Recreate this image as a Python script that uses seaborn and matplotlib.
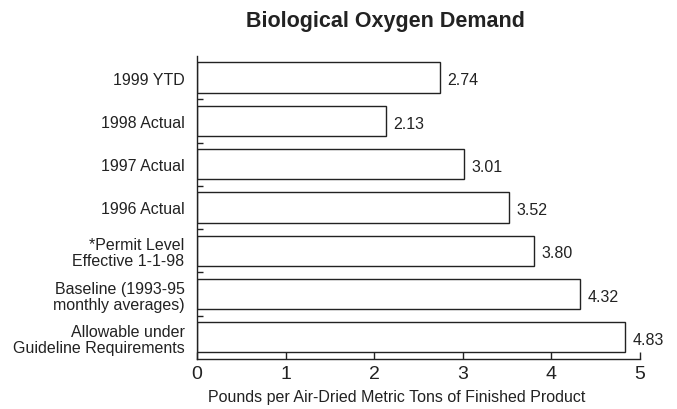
import matplotlib
matplotlib.use("Agg")
import matplotlib.pyplot as plt
import seaborn as sns
import pandas as pd
from matplotlib.ticker import FixedLocator

categories = [
    "1999 YTD",
    "1998 Actual",
    "1997 Actual",
    "1996 Actual",
    "*Permit Level\nEffective 1-1-98",
    "Baseline (1993-95\nmonthly averages)",
    "Allowable under\nGuideline Requirements",
]
values = [2.74, 2.13, 3.01, 3.52, 3.80, 4.32, 4.83]
value_labels = ["2.74", "2.13", "3.01", "3.52", "3.80", "4.32", "4.83"]
x_ticks = [0, 1, 2, 3, 4, 5]

sns.set_style("ticks")
plt.rcParams['font.family'] = ['Liberation Sans', 'DejaVu Sans']

df = pd.DataFrame({'category': categories, 'value': values})

fig = plt.figure(figsize=(6.77, 4.10), dpi=100)
ax = fig.add_axes([0.291, 0.122, 0.654, 0.739])
sns.barplot(data=df, x='value', y='category', orient='h', color='white',
            edgecolor='#222222', linewidth=1.0, width=0.7, ax=ax)

for i, (v, lab) in enumerate(zip(values, value_labels)):
    ax.text(v + 0.09, i + 0.05, lab, va='center', ha='left', fontsize=11.5, color='#222222')

ax.set_xlim(0, 5)
ax.set_ylim(6.5, -0.5)
ax.set_xticks(x_ticks)
ax.set_xticklabels([str(t) for t in x_ticks], fontsize=14, color='#222222')
ax.tick_params(axis='x', direction='in', length=5, width=1, color='#222222', pad=4)
ax.tick_params(axis='y', which='major', length=0, pad=9, labelsize=11.5, labelcolor='#222222')
for t in ax.get_yticklabels():
    t.set_linespacing(1.1)
ax.yaxis.set_minor_locator(FixedLocator([0.5, 1.5, 2.5, 3.5, 4.5, 5.5]))
ax.tick_params(axis='y', which='minor', direction='in', length=4, width=1, color='#222222')

ax.set_ylabel('')
ax.set_xlabel('Pounds per Air-Dried Metric Tons of Finished Product', fontsize=11.5,
              color='#222222')
ax.xaxis.set_label_coords(0.452, -0.1)
sns.despine(ax=ax)
for s in ['left', 'bottom']:
    ax.spines[s].set_color('#222222')
    ax.spines[s].set_linewidth(1.0)

fig.text(0.569, 0.948, 'Biological Oxygen Demand', ha='center', va='center',
         fontsize=15.5, fontweight='bold', color='#222222')

fig.savefig('out.png', dpi=100)
